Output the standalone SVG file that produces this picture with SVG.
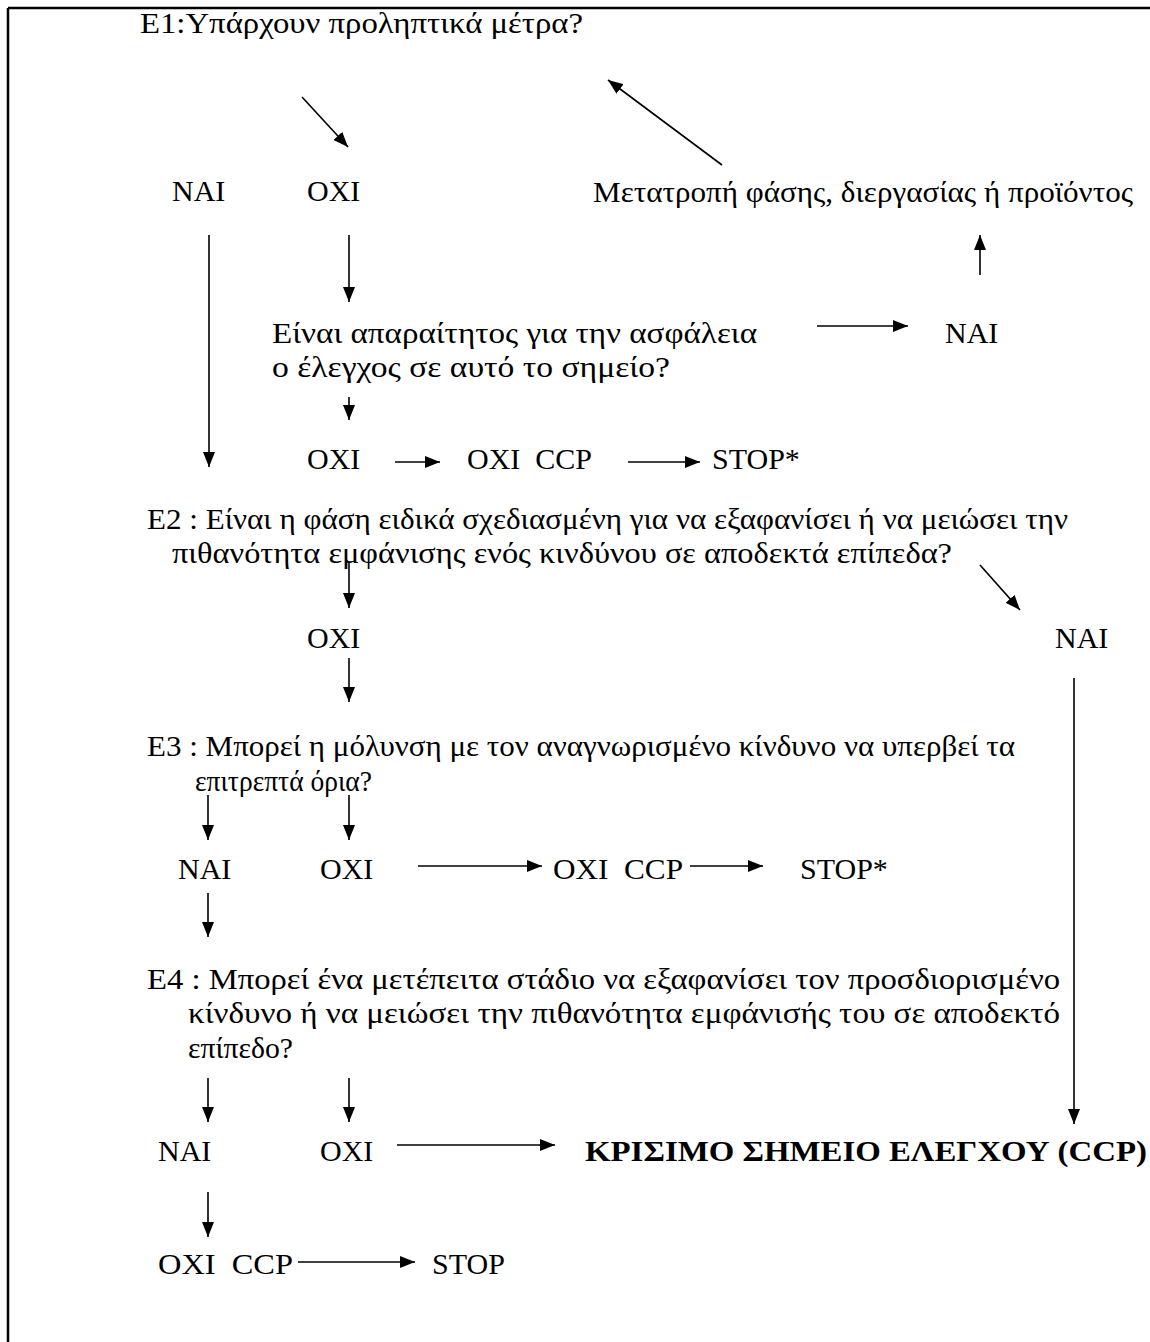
<svg xmlns="http://www.w3.org/2000/svg" width="1150" height="1342" viewBox="0 0 1150 1342">
<style>
text{font-family:"Liberation Serif","Times New Roman",serif;font-size:30px;fill:#000}
.b{font-weight:bold}
.ln{stroke:#000;stroke-width:1.6;fill:none;marker-end:url(#ah)}
</style>
<defs>
<marker id="ah" markerUnits="userSpaceOnUse" markerWidth="15" markerHeight="12" refX="15" refY="6" orient="auto">
<path d="M0,0 L15,6 L0,12 z" fill="#000"/>
</marker>
</defs>
<rect width="1150" height="1342" fill="#fff"/>
<g id="frame">
<line x1="8" y1="8" x2="1150" y2="8" stroke="#000" stroke-width="2.5"/>
<line x1="8" y1="8" x2="8" y2="1342" stroke="#000" stroke-width="2.5"/>
</g>
<g id="connectors">
<line class="ln" x1="302" y1="97" x2="348" y2="147"/>
<line class="ln" x1="209" y1="235" x2="209" y2="467"/>
<line class="ln" x1="349" y1="235" x2="349" y2="302"/>
<line class="ln" x1="817" y1="326" x2="908" y2="326"/>
<line class="ln" x1="980" y1="275" x2="980" y2="235"/>
<line class="ln" x1="722" y1="165" x2="608" y2="80"/>
<line class="ln" x1="349" y1="397" x2="349" y2="420"/>
<line class="ln" x1="395" y1="462" x2="440" y2="462"/>
<line class="ln" x1="628" y1="462" x2="700" y2="462"/>
<line class="ln" x1="349" y1="562" x2="349" y2="608"/>
<line class="ln" x1="980" y1="565" x2="1020" y2="610"/>
<line class="ln" x1="349" y1="658" x2="349" y2="702"/>
<line class="ln" x1="1074" y1="678" x2="1074" y2="1124"/>
<line class="ln" x1="208" y1="795" x2="208" y2="840"/>
<line class="ln" x1="349" y1="795" x2="349" y2="840"/>
<line class="ln" x1="418" y1="866" x2="542" y2="866"/>
<line class="ln" x1="690" y1="866" x2="763" y2="866"/>
<line class="ln" x1="208" y1="893" x2="208" y2="937"/>
<line class="ln" x1="208" y1="1078" x2="208" y2="1122"/>
<line class="ln" x1="349" y1="1078" x2="349" y2="1122"/>
<line class="ln" x1="397" y1="1145" x2="555" y2="1145"/>
<line class="ln" x1="208" y1="1192" x2="208" y2="1237"/>
<line class="ln" x1="298" y1="1262" x2="415" y2="1262"/>
</g>
<g id="e1"><text x="140" y="33" textLength="443" lengthAdjust="spacingAndGlyphs">E1:Υπάρχουν προληπτικά μέτρα?</text></g>
<g id="nai1"><text x="172" y="201">NAI</text></g>
<g id="oxi1"><text x="307" y="201">OXI</text></g>
<g id="metatropi"><text x="593" y="202" textLength="540" lengthAdjust="spacingAndGlyphs">Μετατροπή φάσης, διεργασίας ή προϊόντος</text></g>
<g id="q-safety">
<text x="272" y="343" textLength="485" lengthAdjust="spacingAndGlyphs">Είναι απαραίτητος για την ασφάλεια</text>
<text x="272" y="377" textLength="398" lengthAdjust="spacingAndGlyphs">ο έλεγχος σε αυτό το σημείο?</text>
</g>
<g id="nai2"><text x="945" y="343">NAI</text></g>
<g id="oxi2"><text x="307" y="469">OXI</text></g>
<g id="oxiccp1"><text x="467" y="469" xml:space="preserve">OXI  CCP</text></g>
<g id="stop1"><text x="712" y="469">STOP*</text></g>
<g id="e2">
<text x="147" y="529" textLength="921" lengthAdjust="spacingAndGlyphs">E2 : Είναι η φάση ειδικά σχεδιασμένη για να εξαφανίσει ή να μειώσει την</text>
<text x="172" y="563" textLength="780" lengthAdjust="spacingAndGlyphs">πιθανότητα εμφάνισης ενός κινδύνου σε αποδεκτά επίπεδα?</text>
</g>
<g id="oxi3"><text x="307" y="648">OXI</text></g>
<g id="nai3"><text x="1055" y="648">NAI</text></g>
<g id="e3">
<text x="147" y="756" textLength="868" lengthAdjust="spacingAndGlyphs">E3 : Μπορεί η μόλυνση με τον αναγνωρισμένο κίνδυνο να υπερβεί τα</text>
<text x="195" y="791" textLength="177" lengthAdjust="spacingAndGlyphs">επιτρεπτά όρια?</text>
</g>
<g id="nai4"><text x="178" y="879">NAI</text></g>
<g id="oxi4"><text x="320" y="879">OXI</text></g>
<g id="oxiccp2"><text x="553" y="879" xml:space="preserve" textLength="130" lengthAdjust="spacingAndGlyphs">OXI  CCP</text></g>
<g id="stop2"><text x="800" y="879">STOP*</text></g>
<g id="e4">
<text x="147" y="989" textLength="913" lengthAdjust="spacingAndGlyphs">E4 : Μπορεί ένα μετέπειτα στάδιο να εξαφανίσει τον προσδιορισμένο</text>
<text x="188" y="1023" textLength="872" lengthAdjust="spacingAndGlyphs">κίνδυνο ή να μειώσει την πιθανότητα εμφάνισής του σε αποδεκτό</text>
<text x="188" y="1058" textLength="105" lengthAdjust="spacingAndGlyphs">επίπεδο?</text>
</g>
<g id="nai5"><text x="158" y="1161">NAI</text></g>
<g id="oxi5"><text x="320" y="1161">OXI</text></g>
<g id="ccp"><text class="b" x="585" y="1161" textLength="562" lengthAdjust="spacingAndGlyphs">ΚΡΙΣΙΜΟ ΣΗΜΕΙΟ ΕΛΕΓΧΟΥ (CCP)</text></g>
<g id="oxiccp3"><text x="158" y="1274" xml:space="preserve" textLength="135" lengthAdjust="spacingAndGlyphs">OXI  CCP</text></g>
<g id="stop3"><text x="432" y="1274">STOP</text></g>
</svg>
